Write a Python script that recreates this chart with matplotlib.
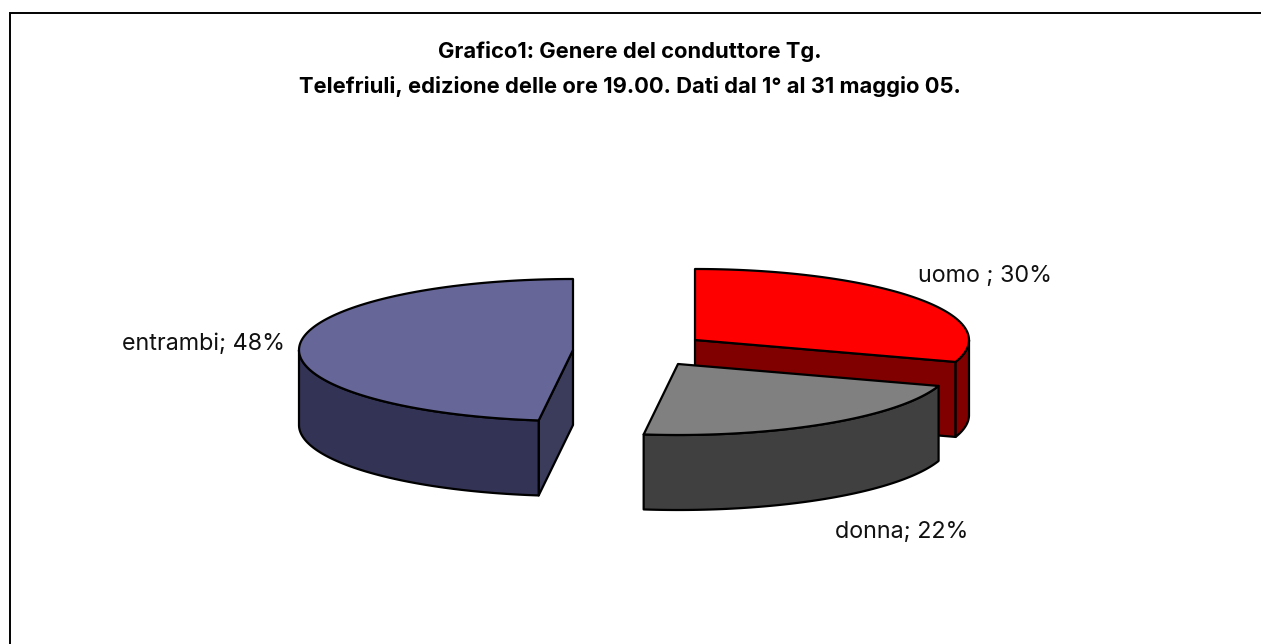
import numpy as np
import matplotlib
matplotlib.use("Agg")
import matplotlib.pyplot as plt
from matplotlib.patches import Polygon

categories = ["uomo ", "donna", "entrambi"]
values = [30, 22, 48]
top_colors = ["#FF0000", "#808080", "#666699"]
side_colors = ["#800000", "#404040", "#333355"]
cut_colors = ["#800000", "#404040", "#3B3B5C"]

WIDTH, HEIGHT = 1261, 644
RX, RY, DEPTH = 274, 71, 75
centers = [(695, 340), (678, 364), (573, 350)]
label_pos = [(918, 276), (835, 532), (122, 344)]
FONT = "Inter"


def rim(c, a0, a1, n=120):
    # angles clockwise from the top of the pie
    t = np.radians(np.linspace(a0, a1, n))
    return np.column_stack([c[0] + RX * np.sin(t), c[1] - RY * np.cos(t)])


def add_poly(ax, pts, color, z):
    ax.add_patch(Polygon(pts, closed=True, fc=color, ec="black", lw=1.6, joinstyle="round", zorder=z))


def draw_slice(ax, c, a0, a1, top, side, cut, z):
    down = np.array([0, DEPTH])
    centre = np.array(c, dtype=float)
    # cut faces at the two radial edges, only when they look at the viewer
    for a, sign in ((a0, -1), (a1, 1)):
        edge = rim(c, a, a, 1)[0]
        if sign * np.sin(np.radians(a)) > 1e-6:
            add_poly(ax, [centre, edge, edge + down, centre + down], cut, z)
    # outer wall, front half of the ellipse
    lo, hi = max(a0, 90), min(a1, 270)
    if hi > lo:
        arc = rim(c, lo, hi)
        add_poly(ax, np.vstack([arc, arc[::-1] + down]), side, z + 0.1)
    add_poly(ax, np.vstack([[centre], rim(c, a0, a1)]), top, z + 0.2)


fig = plt.figure(figsize=(WIDTH / 100, HEIGHT / 100), dpi=100)
ax = fig.add_axes([0, 0, 1, 1])
ax.set_xlim(0, WIDTH)
ax.set_ylim(HEIGHT, 0)
ax.axis("off")
# frame runs off the right and bottom of the picture
ax.add_patch(plt.Rectangle((10, 12.5), WIDTH, HEIGHT, fc="white", ec="black", lw=1.4))

start = 0
for i, v in enumerate(values):
    end = start + v * 3.6
    draw_slice(ax, centers[i], start, end, top_colors[i], side_colors[i], cut_colors[i], 2 + i)
    ax.text(label_pos[i][0], label_pos[i][1], f"{categories[i]}; {v}%", fontsize=16.8,
            family=FONT, va="center", ha="left", color="#111111", zorder=9)
    start = end

ax.text(630, 51, "Grafico1: Genere del conduttore Tg.", fontsize=15.8, fontweight="bold",
        family=FONT, ha="center", va="center")
ax.text(630, 86, "Telefriuli, edizione delle ore 19.00. Dati dal 1° al 31 maggio 05.", fontsize=15.8,
        fontweight="bold", family=FONT, ha="center", va="center")

fig.savefig("out.png", dpi=100)
